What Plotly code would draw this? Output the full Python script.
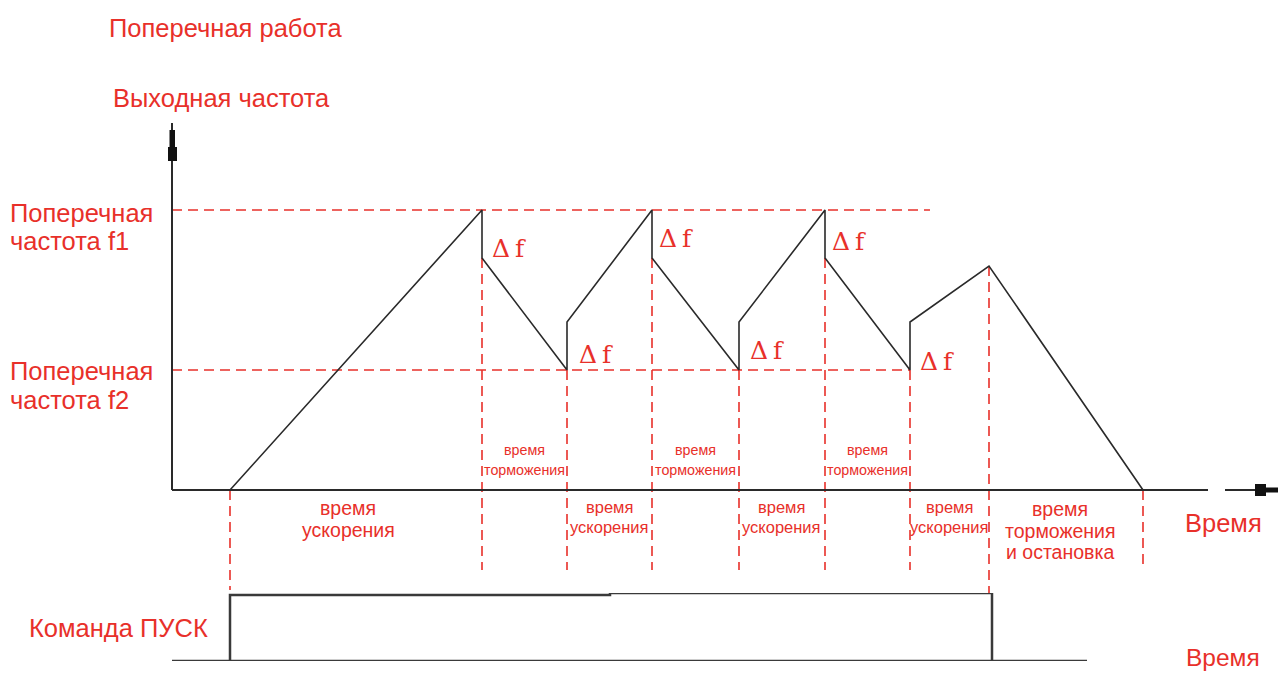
import plotly.graph_objects as go

# ---------------- data ----------------
# transition times (s) and output frequency (Hz) of the traverse waveform
t_wave = [5.8, 31.0, 31.0, 39.5, 39.5, 48.0, 48.0, 56.7, 56.7, 65.3, 65.3, 73.8, 73.8, 81.7, 97.1]
f_wave = [0, 35, 29, 15, 21, 35, 29, 15, 21, 35, 29, 15, 21, 28, 0]

f1 = 35          # traverse frequency f1
f2 = 15          # traverse frequency f2
f1_line_end = 75.8
f2_line_end = 73.8

# vertical dashed markers: time, upper frequency, lower end
t_marks = [5.8, 31.0, 39.5, 48.0, 56.7, 65.3, 73.8, 81.7, 97.1]
f_mark_top = [0, 29, 15, 29, 15, 29, 15, 28, 0]
f_mark_bot = [-12.5, -10, -10, -10, -10, -10, -10, -12.9, -10]

# START command
t_cmd = [5.8, 5.8, 43.8, 43.8, 82.0, 82.0]
cmd = [0, 0.97, 0.97, 1.0, 1.0, 0]
t_cmd_base = [0, 91.5]
cmd_base = [0, 0]

# labels
dec_label = ["время", "торможения"]
acc_label = ["время", "ускорения"]
dec_centers = [35.25, 52.35, 69.55]
acc_centers = [43.75, 60.95, 77.75]
df_pos_t = [31.8, 40.5, 48.5, 57.6, 65.8, 74.6]
df_pos_f = [30.25, 17.0, 31.4, 17.5, 31.1, 16.1]

RED = "#e8302a"
LINE = "#2a2a2a"
SANS = "Liberation Sans, Arial, sans-serif"

# pixel mapping of the layout (x px = 172 + 10 t ; y px = 490 - 8 f)
X0, SX = 172.0, 10.0
Y0, SY = 490.0, 8.0
W, H = 1279, 673


def tx(px):
    return (px - X0) / SX


def fy(py):
    return (Y0 - py) / SY


fig = go.Figure()

DASH = dict(color=RED, width=1.6, dash="10px,6px")
# horizontal reference dashed lines
fig.add_trace(go.Scatter(x=[0, f1_line_end], y=[f1, f1], mode="lines", line=DASH, hoverinfo="skip"))
fig.add_trace(go.Scatter(x=[0, f2_line_end], y=[f2, f2], mode="lines", line=DASH, hoverinfo="skip"))
# vertical dashed markers
for t, a, b in zip(t_marks, f_mark_top, f_mark_bot):
    fig.add_trace(go.Scatter(x=[t, t], y=[a, b], mode="lines", line=DASH, hoverinfo="skip"))

# axes lines
fig.add_trace(go.Scatter(x=[0, 0], y=[0, fy(123)], mode="lines",
                         line=dict(color=LINE, width=2), hoverinfo="skip"))
fig.add_trace(go.Scatter(x=[0, tx(1208)], y=[0, 0], mode="lines",
                         line=dict(color=LINE, width=2), hoverinfo="skip"))
fig.add_trace(go.Scatter(x=[tx(1225), tx(1260)], y=[0, 0], mode="lines",
                         line=dict(color=LINE, width=2), hoverinfo="skip"))

# waveform
fig.add_trace(go.Scatter(x=t_wave, y=f_wave, mode="lines",
                         line=dict(color=LINE, width=1.6), hoverinfo="skip"))

# command signal
fig.add_trace(go.Scatter(x=t_cmd_base, y=cmd_base, mode="lines", yaxis="y2",
                         line=dict(color="#3a3a3a", width=2.5), hoverinfo="skip"))
fig.add_trace(go.Scatter(x=t_cmd, y=cmd, mode="lines", yaxis="y2",
                         line=dict(color="#3a3a3a", width=2.5), hoverinfo="skip"))

shapes = [
    # y-axis arrow head
    dict(type="path", xref="x", yref="y",
         path=f"M {tx(168)},{fy(161)} L {tx(177)},{fy(161)} L {tx(177)},{fy(147)} "
              f"L {tx(175)},{fy(147)} L {tx(175)},{fy(130)} L {tx(169.5)},{fy(130)} "
              f"L {tx(169.5)},{fy(147)} L {tx(168)},{fy(147)} Z",
         fillcolor="#111", line=dict(width=0)),
    # x-axis arrow head
    dict(type="path", xref="x", yref="y",
         path=f"M {tx(1255)},{fy(484)} L {tx(1266)},{fy(484)} L {tx(1266)},{fy(487.5)} "
              f"L {tx(1278)},{fy(487.5)} L {tx(1278)},{fy(492.5)} L {tx(1266)},{fy(492.5)} "
              f"L {tx(1266)},{fy(496)} L {tx(1255)},{fy(496)} Z",
         fillcolor="#111", line=dict(width=0)),
]

ann = []


def text(px, py, s, size, xanchor="left", font=SANS):
    ann.append(dict(x=tx(px), y=fy(py), xref="x", yref="y", text=s, showarrow=False,
                    xanchor=xanchor, yanchor="middle", borderpad=0,
                    font=dict(family=font, size=size, color=RED)))


def lines(px, py, rows, size, gap, xanchor="center"):
    for i, r in enumerate(rows):
        text(px, py + i * gap, r, size, xanchor=xanchor)


text(108, 28, "Поперечная работа", 25.5)
text(112, 98, "Выходная частота", 25.5)
lines(9, 213, ["Поперечная", "частота f1"], 25.5, 28, xanchor="left")
lines(9, 371, ["Поперечная", "частота f2"], 25.5, 29, xanchor="left")
text(1223, 523, "Время", 25.5, xanchor="center")
text(1223, 657, "Время", 24.5, xanchor="center")
text(118, 628, "Команда ПУСК", 25.5, xanchor="center")

for c in dec_centers:
    lines(X0 + SX * c, 450, dec_label, 14.3, 20)
for c in acc_centers:
    lines(X0 + SX * c, 507, acc_label, 16.5, 20)
lines(348, 508, ["время", "ускорения"], 19.5, 22)
lines(1060, 509, ["время", "торможения", "и остановка"], 19.5, 21.5)

for t, f in zip(df_pos_t, df_pos_f):
    ann.append(dict(x=t, y=f, xref="x", yref="y", text="Δ\u2009f", showarrow=False,
                    xanchor="left", yanchor="middle",
                    font=dict(family="DejaVu Serif, Liberation Serif, serif", size=25, color=RED)))

fig.update_layout(
    width=W, height=H,
    margin=dict(l=0, r=0, t=0, b=0),
    paper_bgcolor="white", plot_bgcolor="white",
    showlegend=False,
    xaxis=dict(range=[tx(0), tx(W)], visible=False, fixedrange=True),
    yaxis=dict(range=[fy(H), fy(0)], visible=False, fixedrange=True, domain=[0, 1]),
    yaxis2=dict(range=[0, 1], domain=[(H - 661) / H, (H - 593) / H], visible=False,
                anchor="x", fixedrange=True),
    shapes=shapes,
    annotations=ann,
)

fig.write_html("out.html", config={"displayModeBar": False},
               post_script="document.body.style.margin='0';document.body.style.padding='0';")
